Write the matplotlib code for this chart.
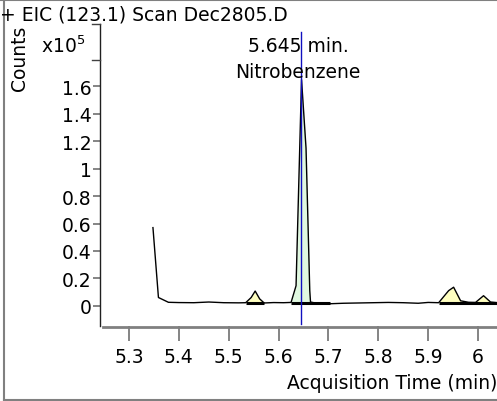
import numpy as np
import matplotlib
matplotlib.use("Agg")
import matplotlib.pyplot as plt
from matplotlib.lines import Line2D

# ---- data (x10^5 counts) ----
times = [5.348, 5.359, 5.379, 5.40, 5.43, 5.46, 5.49, 5.52, 5.534, 5.545,
         5.553, 5.562, 5.571, 5.59, 5.61, 5.625, 5.635, 5.646, 5.655, 5.6625,
         5.664, 5.68, 5.70, 5.73, 5.76, 5.79, 5.82, 5.85, 5.88, 5.90,
         5.921, 5.941, 5.951, 5.965, 5.981, 5.995, 6.011, 6.025, 6.04]
counts = [0.57, 0.06, 0.025, 0.023, 0.022, 0.027, 0.022, 0.021, 0.022, 0.06,
          0.107, 0.05, 0.02, 0.023, 0.022, 0.024, 0.146, 1.65, 1.15, 0.11,
          0.027, 0.015, 0.014, 0.018, 0.02, 0.022, 0.024, 0.022, 0.018, 0.024,
          0.022, 0.11, 0.135, 0.036, 0.025, 0.024, 0.073, 0.027, 0.022]
peak_time = 5.645
peak_label = ["5.645 min.", "Nitrobenzene"]
title = "+ EIC (123.1) Scan Dec2805.D"
x_ticks = [5.3, 5.4, 5.5, 5.6, 5.7, 5.8, 5.9, 6.0]
y_ticks = [0, 0.2, 0.4, 0.6, 0.8, 1.0, 1.2, 1.4, 1.6]
# integrated peak regions: (start, end of fill, end of baseline, colour)
peaks = [(5.534, 5.571, 5.571, "#ffffc0"),
         (5.625, 5.664, 5.703, "#e0f8e0"),
         (5.921, 6.025, 6.04, "#ffffc0")]
base_level = 0.02

W, H = 497, 402
fig = plt.figure(figsize=(W / 100, H / 100), dpi=100)
plt.rcParams['font.family'] = ['DejaVu Sans']
FS = 13.5

ax = fig.add_axes([100 / W, 1 - 327 / H, 397 / W, 302 / H])
ax.set_xlim(5.2418, 6.038)
ax.set_ylim(-0.148, 2.056)

t = np.array(times)
c = np.array(counts)
for (a, b, e, col) in peaks:
    xs = np.linspace(a, b, 200)
    ax.fill_between(xs, np.interp(xs, t, c), base_level, color=col, lw=0, zorder=1)
    ax.plot([a, e], [base_level, base_level], color="black", lw=2.2,
            solid_capstyle="butt", zorder=2)
ax.plot(t, c, color="black", lw=1.0, zorder=3)

ax.plot([peak_time, peak_time], [2.0, -0.133], color="#1010c0", lw=1.0,
        zorder=4, clip_on=False)
ax.text(peak_time - 0.005, 1.896, peak_label[0], ha="center", va="center",
        fontsize=FS, zorder=5)
ax.text(peak_time - 0.006, 1.706, peak_label[1], ha="center", va="center",
        fontsize=FS, zorder=5)

for s in ["top", "right"]:
    ax.spines[s].set_visible(False)
ax.spines["left"].set_color("#202020")
ax.spines["left"].set_linewidth(1.0)
ax.spines["bottom"].set_visible(False)
# x axis line (gray, slightly detached)
ax.add_line(Line2D([0.008, 1.0], [-0.003, -0.003], transform=ax.transAxes,
                   color="#808080", lw=2.0, clip_on=False))

ax.set_xticks(x_ticks)
ax.set_xticklabels(["%g" % v for v in x_ticks])
ax.set_yticks(y_ticks)
ax.set_yticklabels(["%g" % v for v in y_ticks])
ax.tick_params(axis="x", direction="out", length=11, width=1.2, color="#707070",
               labelsize=FS, pad=4)
ax.tick_params(axis="y", direction="out", length=5, width=1.2, color="#707070",
               labelsize=FS, pad=1)
ax.patch.set_visible(False)

# bracket ticks around multiplier
for yv in [25, 61]:
    fig.add_artist(Line2D([92 / W, 100 / W], [1 - yv / H, 1 - yv / H],
                          color="#404040", lw=1.0))
fig.text(41 / W, 1 - 46 / H, r"x10$^{5}$", fontsize=FS, ha="left", va="center")
fig.text(20 / W, 1 - 58 / H, "Counts", fontsize=FS, rotation=90,
         ha="center", va="center")
fig.text(0, 1 - 15 / H, title, fontsize=FS, ha="left", va="center")
fig.text(1.0, 1 - 384 / H, "Acquisition Time (min)", fontsize=FS,
         ha="right", va="center")

# figure border (left, top, bottom)
for xs_, ys_ in [([3.5, 3.5], [1.5, 400.5]), ([0, 497], [0.8, 0.8]),
                 ([3.5, 497], [400.5, 400.5])]:
    fig.add_artist(Line2D([v / W for v in xs_], [1 - v / H for v in ys_],
                          color="#808080", lw=1.5))

fig.savefig("out.png", dpi=100)
